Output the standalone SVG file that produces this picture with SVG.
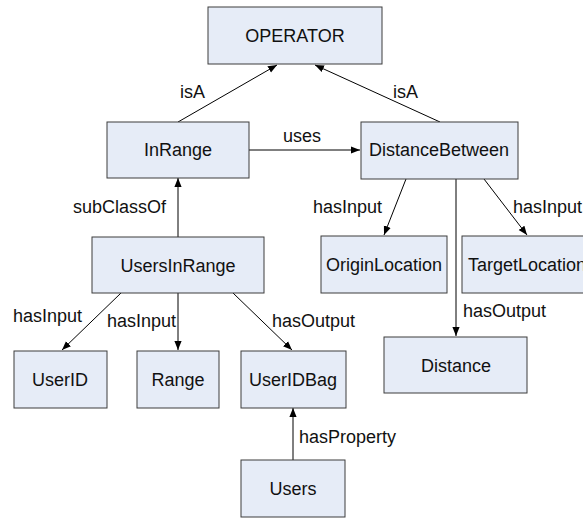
<svg xmlns="http://www.w3.org/2000/svg" width="583" height="518" viewBox="0 0 583 518">
  <defs>
    <marker id="arrow" viewBox="0 0 10 10" refX="10" refY="5" markerWidth="9" markerHeight="9" markerUnits="userSpaceOnUse" orient="auto">
      <path d="M0,1 L10,5 L0,9 Z" fill="#000"/>
    </marker>
    <style>
      .box { fill: #e6ecf7; stroke: #3c3c3c; stroke-width: 1; }
      .name { font-family: "Liberation Sans", Arial, sans-serif; font-size: 18px; fill: #111; text-anchor: middle; }
      .edge { stroke: #000; stroke-width: 1; fill: none; marker-end: url(#arrow); }
      .lbl { font-family: "Liberation Sans", Arial, sans-serif; font-size: 18px; fill: #111; }
    </style>
  </defs>
  <rect width="583" height="518" fill="#fff"/>

  <g id="connectors">
    <line class="edge" x1="178" y1="122" x2="277" y2="65"/>
    <line class="edge" x1="440" y1="122" x2="315" y2="65"/>
    <line class="edge" x1="249" y1="150" x2="360" y2="150"/>
    <line class="edge" x1="178" y1="237" x2="178" y2="178"/>
    <line class="edge" x1="406" y1="179" x2="384" y2="235"/>
    <line class="edge" x1="484" y1="179" x2="527" y2="235"/>
    <line class="edge" x1="456" y1="179" x2="456" y2="336"/>
    <line class="edge" x1="121" y1="293" x2="62" y2="350"/>
    <line class="edge" x1="178" y1="293" x2="178" y2="350"/>
    <line class="edge" x1="233" y1="293" x2="292" y2="350"/>
    <line class="edge" x1="293" y1="460" x2="293" y2="408"/>

    <text class="lbl" x="180" y="98">isA</text>
    <text class="lbl" x="393" y="98">isA</text>
    <text class="lbl" x="283" y="142">uses</text>
    <text class="lbl" x="73" y="213">subClassOf</text>
    <text class="lbl" x="313" y="213">hasInput</text>
    <text class="lbl" x="513" y="213">hasInput</text>
    <text class="lbl" x="13" y="322">hasInput</text>
    <text class="lbl" x="107" y="327">hasInput</text>
    <text class="lbl" x="272" y="327">hasOutput</text>
    <text class="lbl" x="463" y="317">hasOutput</text>
    <text class="lbl" x="299" y="443">hasProperty</text>
  </g>

  <g id="operator">
    <rect class="box" x="208" y="7" width="174" height="57"/>
    <text class="name" x="295" y="42">OPERATOR</text>
  </g>
  <g id="inrange">
    <rect class="box" x="107" y="122" width="142" height="56"/>
    <text class="name" x="178" y="156">InRange</text>
  </g>
  <g id="distancebetween">
    <rect class="box" x="361" y="122" width="157" height="57"/>
    <text class="name" x="439" y="156">DistanceBetween</text>
  </g>
  <g id="usersinrange">
    <rect class="box" x="92" y="237" width="172" height="56"/>
    <text class="name" x="178" y="272">UsersInRange</text>
  </g>
  <g id="originlocation">
    <rect class="box" x="321" y="236" width="126" height="57"/>
    <text class="name" x="384" y="271">OriginLocation</text>
  </g>
  <g id="targetlocation">
    <rect class="box" x="462" y="236" width="130" height="57"/>
    <text class="name" x="527" y="271">TargetLocation</text>
  </g>
  <g id="distance">
    <rect class="box" x="384" y="337" width="143" height="56"/>
    <text class="name" x="456" y="372">Distance</text>
  </g>
  <g id="userid">
    <rect class="box" x="14" y="351" width="93" height="57"/>
    <text class="name" x="60" y="386">UserID</text>
  </g>
  <g id="range">
    <rect class="box" x="137" y="351" width="82" height="57"/>
    <text class="name" x="178" y="386">Range</text>
  </g>
  <g id="useridbag">
    <rect class="box" x="241" y="351" width="105" height="57"/>
    <text class="name" x="293" y="386">UserIDBag</text>
  </g>
  <g id="users">
    <rect class="box" x="241" y="460" width="104" height="57"/>
    <text class="name" x="293" y="495">Users</text>
  </g>
</svg>
